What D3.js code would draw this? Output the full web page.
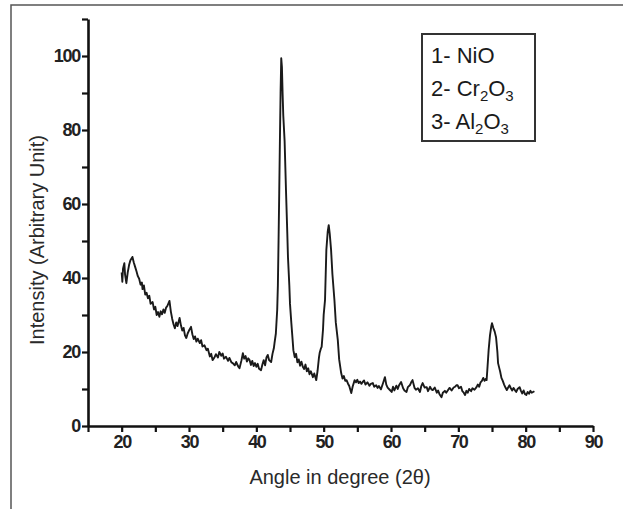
<!DOCTYPE html>
<html>
<head>
<meta charset="utf-8">
<script src="https://cdn.jsdelivr.net/npm/d3@7"></script>
<style>
  html, body { margin: 0; padding: 0; background: #fff; }
  svg { display: block; }
</style>
</head>
<body>
<svg id="chart" width="623" height="509"></svg>
<script>
// XRD pattern: 2θ (degrees) and intensity
const angles = [
  20.0, 20.1, 20.2, 20.4, 20.5, 20.7, 20.9, 21.1, 21.3, 21.6, 21.8, 22.0, 22.2, 22.4, 22.6, 22.8,
  23.0, 23.1, 23.3, 23.5, 23.7, 23.9, 24.1, 24.3, 24.6, 24.8, 25.0, 25.2, 25.4, 25.6, 25.8, 26.0,
  26.2, 26.4, 26.6, 26.8, 27.1, 27.3, 27.5, 27.7, 27.9, 28.1, 28.3, 28.6, 28.8, 29.0, 29.2, 29.4,
  29.6, 29.8, 30.0, 30.3, 30.5, 30.7, 30.9, 31.1, 31.3, 31.6, 31.8, 32.0, 32.3, 32.6, 32.8, 33.1,
  33.3, 33.5, 33.8, 34.0, 34.3, 34.5, 34.8, 35.0, 35.2, 35.5, 35.8, 36.0, 36.3, 36.5, 36.8, 37.0,
  37.3, 37.5, 37.8, 38.0, 38.2, 38.4, 38.6, 38.8, 39.0, 39.2, 39.4, 39.6, 39.8, 40.0, 40.2, 40.4,
  40.7, 40.9, 41.1, 41.3, 41.5, 41.7, 41.9, 42.2, 42.4, 42.6, 42.7, 42.9, 43.1, 43.2, 43.3, 43.4,
  43.5, 43.6, 43.7, 43.8, 43.9, 44.0, 44.2, 44.4, 44.6, 44.7, 44.9, 45.0, 45.2, 45.4, 45.5, 45.7,
  45.9, 46.1, 46.3, 46.5, 46.7, 46.9, 47.1, 47.3, 47.5, 47.7, 47.9, 48.1, 48.4, 48.6, 48.9, 49.1,
  49.3, 49.4, 49.6, 49.7, 49.9, 50.0, 50.2, 50.4, 50.6, 50.75, 50.9, 51.1, 51.3, 51.6, 51.8, 52.1,
  52.3, 52.6, 52.8, 53.0, 53.2, 53.4, 53.6, 53.8, 54.1, 54.3, 54.6, 54.8, 55.0, 55.2, 55.4, 55.6,
  55.8, 56.0, 56.2, 56.5, 56.8, 57.0, 57.3, 57.5, 57.8, 58.0, 58.2, 58.5, 58.8, 59.1, 59.3, 59.5,
  59.8, 60.1, 60.3, 60.5, 60.8, 61.0, 61.2, 61.5, 61.8, 62.0, 62.3, 62.5, 62.8, 63.0, 63.2, 63.5,
  63.7, 64.0, 64.3, 64.5, 64.7, 65.0, 65.3, 65.5, 65.8, 66.0, 66.2, 66.5, 66.8, 67.0, 67.2, 67.5,
  67.7, 68.0, 68.2, 68.5, 68.7, 69.0, 69.3, 69.5, 69.7, 69.9, 70.1, 70.4, 70.6, 70.8, 71.0, 71.2,
  71.4, 71.6, 71.9, 72.1, 72.4, 72.7, 72.9, 73.1, 73.3, 73.5, 73.7, 73.9, 74.1, 74.2, 74.3, 74.5,
  74.7, 74.9, 75.0, 75.2, 75.4, 75.6, 75.8, 75.9, 76.1, 76.2, 76.4, 76.6, 76.8, 77.0, 77.2, 77.4,
  77.6, 77.8, 78.0, 78.2, 78.4, 78.6, 78.8, 79.1, 79.3, 79.5, 79.7, 79.9, 80.1, 80.3, 80.5, 80.7,
  80.9, 81.1, 81.3
];
const intensity = [
  41.5, 39.0, 42.5, 44.0, 41.0, 38.6, 41.5, 43.5, 44.8, 45.7, 44.2, 43.0, 41.8, 40.5, 39.8, 38.2,
  38.8, 37.0, 38.0, 35.5, 36.0, 34.5, 35.2, 33.0, 33.5, 31.5, 32.2, 30.0, 30.8, 29.5, 31.0, 30.2,
  31.5, 30.6, 32.0, 32.5, 33.8, 31.0, 29.0, 27.5, 26.4, 28.0, 27.0, 29.2, 27.2, 25.8, 26.5, 24.5,
  23.8, 25.0, 25.8, 26.8, 24.8, 23.5, 24.2, 22.8, 23.6, 22.4, 23.2, 21.5, 21.8, 20.5, 20.9, 18.8,
  19.5, 17.8, 18.6, 19.4, 18.5, 20.0, 19.0, 19.6, 18.2, 18.7, 17.6, 18.4, 17.2, 17.0, 16.4, 17.3,
  16.1, 15.6, 17.8, 19.7, 18.2, 18.9, 17.4, 18.3, 17.8, 16.5, 17.6, 16.2, 17.0, 16.0, 16.8, 15.5,
  15.1, 16.6, 17.8, 16.4, 18.5, 19.2, 17.8, 17.3, 19.5, 21.0, 22.4, 25.0, 31.4, 38.0, 50.0, 63.0,
  77.0, 90.0, 99.4, 97.0, 90.0, 84.0, 77.0, 64.0, 52.0, 45.6, 38.0, 33.0, 27.8, 23.0, 20.5, 18.6,
  19.5, 17.2, 18.0, 16.3, 17.4, 16.0, 15.4, 16.6, 14.8, 15.6, 14.0, 14.8, 13.2, 14.2, 12.4, 15.0,
  18.5, 19.7, 21.0, 21.4, 26.0, 30.0, 34.0, 47.6, 52.5, 54.3, 52.0, 47.6, 41.0, 34.0, 28.0, 23.2,
  18.0, 14.3, 12.8, 13.5, 12.2, 12.4, 11.5, 10.8, 8.9, 10.6, 12.4, 11.8, 12.5, 11.6, 12.0, 11.4,
  11.9, 12.3, 11.2, 11.8, 10.9, 11.4, 11.6, 10.6, 11.0, 10.3, 10.8, 9.9, 11.5, 13.2, 11.2, 10.4,
  9.8, 9.2, 10.6, 9.6, 10.9, 10.0, 11.0, 11.9, 10.2, 9.6, 9.2, 10.5, 11.0, 11.8, 12.4, 10.3,
  9.8, 10.2, 9.2, 10.8, 11.6, 10.4, 10.5, 9.4, 10.6, 9.9, 9.7, 10.4, 9.0, 9.6, 8.6, 7.8,
  9.0, 9.5, 9.0, 9.8, 10.3, 9.6, 10.4, 10.6, 11.0, 11.0, 10.2, 10.6, 9.4, 9.0, 8.4, 9.5,
  9.0, 10.0, 9.4, 10.2, 9.8, 10.5, 11.2, 10.6, 11.8, 12.2, 13.0, 12.2, 12.8, 12.4, 15.0, 20.5,
  24.5, 27.0, 27.8, 26.5, 25.5, 24.0, 20.0, 17.0, 15.5, 14.8, 13.0, 12.2, 11.2, 10.4, 9.7, 10.4,
  11.0, 10.2, 9.6, 10.3, 9.7, 9.2, 10.0, 10.5, 9.5, 8.8, 9.6, 8.6, 8.4, 9.2, 8.7, 9.5,
  9.0, 9.2, 9.4
];

const xTicks = [15, 20, 25, 30, 35, 40, 45, 50, 55, 60, 65, 70, 75, 80, 85, 90];
const xLabels = [20, 30, 40, 50, 60, 70, 80, 90];
const yTicks = [0, 10, 20, 30, 40, 50, 60, 70, 80, 90, 100, 110];
const yLabels = [0, 20, 40, 60, 80, 100];
const legendItems = [
  ["1- NiO"],
  ["2- Cr", "2", "O", "3"],
  ["3- Al", "2", "O", "3"]
];

const data = angles.map((a, i) => ({ a, v: intensity[i] }));

const width = 623, height = 509;
const margin = { top: 19, right: 30, bottom: 83, left: 88 };
const svg = d3.select("#chart");
const font = "Liberation Sans, Arial, Helvetica, sans-serif";

// outer frame (top and left edges)
svg.append("path")
  .attr("d", `M11,${height} V5 H${width}`)
  .attr("fill", "none")
  .attr("stroke", "#555")
  .attr("stroke-width", 1.5);

const x = d3.scaleLinear()
  .domain([15, 90])
  .range([margin.left, width - margin.right]);

const y = d3.scaleLinear()
  .domain([0, 110])
  .range([height - margin.bottom, margin.top]);

const gx = svg.append("g")
  .attr("transform", `translate(0,${height - margin.bottom})`)
  .call(d3.axisBottom(x)
    .tickValues(xTicks)
    .tickSize(6)
    .tickSizeOuter(0)
    .tickPadding(3)
    .tickFormat(d => xLabels.includes(d) ? d : ""));

const gy = svg.append("g")
  .attr("transform", `translate(${margin.left},0)`)
  .call(d3.axisLeft(y)
    .tickValues(yTicks)
    .tickSize(6)
    .tickSizeOuter(0)
    .tickPadding(2)
    .tickFormat(d => yLabels.includes(d) ? d : ""));

[gx, gy].forEach(g => {
  g.select(".domain").attr("stroke", "#111").attr("stroke-width", 2.6);
  g.selectAll(".tick line").attr("stroke", "#111").attr("stroke-width", 2.2);
  g.selectAll("text")
    .attr("font-family", font)
    .attr("font-weight", "bold")
    .attr("font-size", "18px")
    .attr("letter-spacing", "-1.3px")
    .attr("fill", "#222");
});

const line = d3.line()
  .x(d => x(d.a))
  .y(d => y(d.v));

svg.append("path")
  .datum(data)
  .attr("fill", "none")
  .attr("stroke", "#1a1a1a")
  .attr("stroke-width", 1.9)
  .attr("stroke-linejoin", "round")
  .attr("d", line);

// axis titles
svg.append("text")
  .attr("x", 340)
  .attr("y", 484)
  .attr("text-anchor", "middle")
  .attr("font-family", font)
  .attr("font-size", "20px")
  .attr("fill", "#2a2a2a")
  .text("Angle in degree (2θ)");

svg.append("text")
  .attr("transform", "translate(44,240) rotate(-90)")
  .attr("text-anchor", "middle")
  .attr("font-family", font)
  .attr("font-size", "20px")
  .attr("fill", "#2a2a2a")
  .text("Intensity (Arbitrary Unit)");

// legend box
const legend = svg.append("g");
legend.append("rect")
  .attr("x", 422)
  .attr("y", 34)
  .attr("width", 113)
  .attr("height", 107)
  .attr("fill", "#fff")
  .attr("stroke", "#333")
  .attr("stroke-width", 2);

legendItems.forEach((parts, i) => {
  const t = legend.append("text")
    .attr("x", 431)
    .attr("y", 63 + i * 33)
    .attr("font-family", font)
    .attr("font-size", "22px")
    .attr("fill", "#1a1a1a");
  parts.forEach((p, j) => {
    const sub = j % 2 === 1;
    t.append("tspan")
      .attr("font-size", sub ? "15px" : "22px")
      .attr("dy", sub ? 5 : (j > 0 ? -5 : 0))
      .text(p);
  });
});
</script>
</body>
</html>
